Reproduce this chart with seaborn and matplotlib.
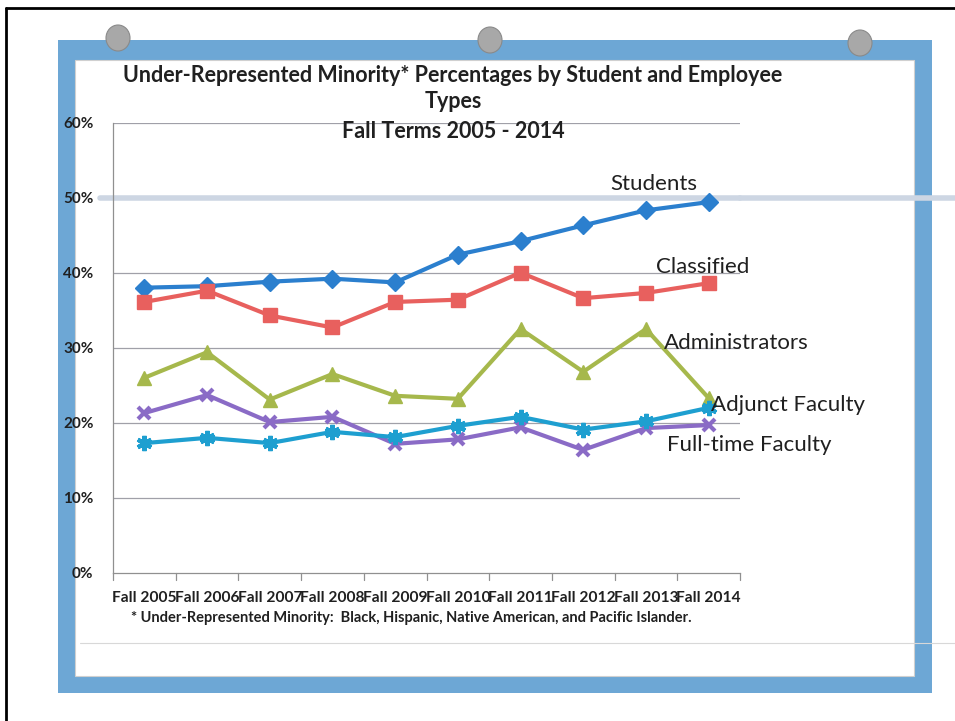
import matplotlib
matplotlib.use("Agg")
import matplotlib.pyplot as plt
import matplotlib.patches as mpatches
from matplotlib.lines import Line2D
import seaborn as sns
import pandas as pd

terms = ["Fall 2005", "Fall 2006", "Fall 2007", "Fall 2008", "Fall 2009",
         "Fall 2010", "Fall 2011", "Fall 2012", "Fall 2013", "Fall 2014"]
students = [38.0, 38.2, 38.8, 39.2, 38.7, 42.4, 44.2, 46.3, 48.3, 49.4]
classified = [36.1, 37.6, 34.3, 32.7, 36.1, 36.4, 40.0, 36.6, 37.3, 38.6]
administrators = [26.0, 29.4, 23.1, 26.5, 23.6, 23.2, 32.5, 26.8, 32.5, 23.3]
fulltime_faculty = [21.3, 23.7, 20.1, 20.8, 17.2, 17.8, 19.4, 16.4, 19.3, 19.7]
adjunct_faculty = [17.3, 18.0, 17.3, 18.8, 18.1, 19.6, 20.8, 19.1, 20.2, 22.0]
y_ticks = [0, 10, 20, 30, 40, 50, 60]
y_tick_labels = ["0%", "10%", "20%", "30%", "40%", "50%", "60%"]

series = [
    ("Students", students, "#2b7fce", "D", 9, 1.0),
    ("Classified", classified, "#e8605e", "s", 10, 1.0),
    ("Administrators", administrators, "#a6b84c", "^", 10, 1.0),
    ("Full-time Faculty", fulltime_faculty, "#8a6bc6", "x", 9, 3.0),
    ("Adjunct Faculty", adjunct_faculty, "#1e9fd0", (6, 2, 0), 11, 3.0),
]

rows = []
for name, vals, *_ in series:
    for t, v in zip(terms, vals):
        rows.append({"term": t, "pct": v, "group": name})
df = pd.DataFrame(rows)

sns.set_theme(style="white")
plt.rcParams["font.family"] = ["Lato", "DejaVu Sans"]

W, H = 955, 721
fig = plt.figure(figsize=(W / 100, H / 100), dpi=100)
fig.patch.set_facecolor("white")

def fx(x):
    return x / W

def fy(y):
    return 1 - y / H

# page decoration (scanned frame)
fig.add_artist(Line2D([fx(6), fx(6)], [fy(8), fy(721)], color="black", lw=2))
fig.add_artist(Line2D([fx(6), fx(955)], [fy(8), fy(8)], color="black", lw=2))
blue = "#6da7d5"
fig.add_artist(mpatches.Rectangle((fx(58), fy(693)), fx(932 - 58), (693 - 40) / H,
                                  facecolor=blue, edgecolor="none", zorder=0))
fig.add_artist(mpatches.Rectangle((fx(75), fy(676)), fx(914 - 75), (676 - 60) / H,
                                  facecolor="white", edgecolor="#d0d0d0", lw=0.8, zorder=0.5))
fig.add_artist(Line2D([fx(80), fx(955)], [fy(643), fy(643)], color="#d8d8d8", lw=0.8, zorder=0.6))
fig.add_artist(Line2D([fx(740), fx(955)], [fy(198), fy(198)], color="#cdd6e3", lw=4, zorder=0.6))
for hx, hy in [(118, 38), (490, 40), (860, 43)]:
    fig.add_artist(mpatches.Ellipse((fx(hx), fy(hy)), 24 / W, 26 / H,
                                    facecolor="#a8a8a8", edgecolor="#8a8a8a", lw=0.8, zorder=3))

ax = fig.add_axes([fx(113), fy(573), fx(740 - 113), (573 - 122.5) / H])
ax.set_zorder(2)
ax.set_facecolor("none")

for name, vals, color, marker, ms, mew in series:
    sub = df[df["group"] == name]
    sns.lineplot(data=sub, x="term", y="pct", ax=ax, color=color, linewidth=3,
                 marker=marker, markersize=ms, markeredgecolor=color,
                 markeredgewidth=mew, sort=False, legend=False, zorder=3)

ax.set_xlim(-0.5, 9.5)
ax.set_ylim(0, 60)
ax.set_yticks(y_ticks)
ax.set_yticklabels(y_tick_labels, fontsize=11, fontweight="bold")
ax.set_xticks(range(len(terms)))
ax.set_xticklabels(terms, fontsize=11.2, fontweight="bold")
ax.set_xlabel("")
ax.set_ylabel("")
for yv in y_ticks[1:]:
    if yv == 50:
        continue
    ax.axhline(yv, color="#a0a0a8", lw=0.9, zorder=1)
ax.axhline(50, xmin=-0.02, xmax=1.0, color="#cdd6e3", lw=4, zorder=1, clip_on=False)
for s in ["top", "right"]:
    ax.spines[s].set_visible(False)
ax.spines["left"].set_color("#909090")
ax.spines["bottom"].set_color("#909090")
ax.spines["left"].set_linewidth(0.9)
ax.spines["bottom"].set_linewidth(0.9)
ax.tick_params(axis="x", length=0, pad=13, colors="#202020")
ax.tick_params(axis="y", length=0, pad=14, colors="#202020")
# boundary tick marks under the x-axis
for b in range(11):
    ax.plot([b - 0.5, b - 0.5], [0, -0.9], color="#909090", lw=0.9, clip_on=False)

# line labels
labels = [("Students", 610, 184), ("Classified", 656, 267), ("Administrators", 664, 343),
          ("Adjunct Faculty", 711, 405), ("Full-time Faculty", 667, 445)]
for txt, lx, ly in labels:
    fig.text(fx(lx), fy(ly), txt, fontsize=16, color="#202020", va="center", ha="left")

# title
for txt, ty in [("Under-Represented Minority* Percentages by Student and Employee", 76),
                ("Types", 102), ("Fall Terms 2005 - 2014", 131)]:
    fig.text(fx(453), fy(ty), txt, fontsize=15.5, fontweight="bold", ha="center",
             va="center", color="#202020")

# footnote
fig.text(fx(411), fy(618),
         "* Under-Represented Minority:  Black, Hispanic, Native American, and Pacific Islander.",
         fontsize=10.5, fontweight="bold", ha="center", va="center", color="#202020")

fig.savefig("out.png", dpi=100)
